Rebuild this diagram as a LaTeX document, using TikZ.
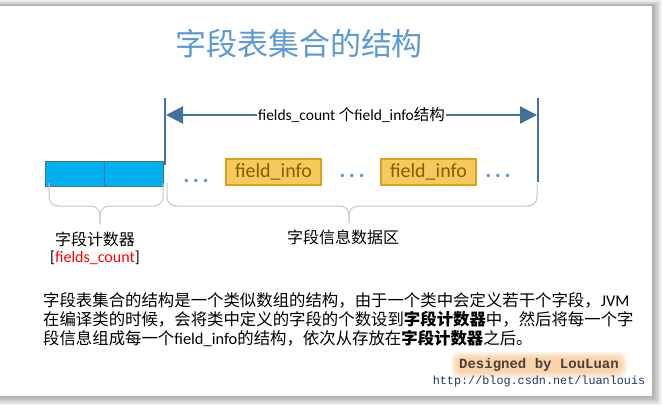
\documentclass[tikz,border=0pt]{standalone}
\usepackage{fontspec}
\setmainfont{Carlito}
\newfontfamily\cjk{Noto Sans CJK SC}
\newfontfamily\codefont{Liberation Mono}
\usetikzlibrary{positioning,arrows.meta}
\definecolor{titleBlue}{HTML}{5B9BD5}
\definecolor{dimBlue}{HTML}{41719C}
\definecolor{countCyan}{HTML}{00B0F0}
\definecolor{infoFill}{HTML}{F7C95C}
\definecolor{infoBorder}{HTML}{D9A21B}
\definecolor{infoText}{HTML}{7F6000}
\definecolor{braceGray}{HTML}{C8C8C8}
\definecolor{glowOrange}{HTML}{F8B26A}
\definecolor{designGray}{HTML}{4A4036}
\definecolor{urlBlue}{HTML}{1F3864}

\begin{document}
\begin{tikzpicture}[
    x=1pt, y=-1pt,
    countcell/.style={
        draw=dimBlue,
        line width=0.6pt,
        fill=countCyan,
        minimum width=59pt,
        minimum height=25pt,
        inner sep=0pt
    },
    infobox/.style={
        draw=infoBorder,
        line width=2pt,
        fill=infoFill,
        text=infoText,
        minimum width=95pt,
        minimum height=26pt,
        inner sep=1pt,
        font=\fontsize{20}{20}\selectfont
    },
    dotrow/.style={
        text=titleBlue,
        inner sep=0pt,
        font=\fontsize{23}{23}\selectfont\bfseries
    },
    dimline/.style={
        draw=dimBlue,
        line width=2.2pt
    },
    dimarrow/.style={
        {Triangle[length=17pt,width=17pt]}-{Triangle[length=17pt,width=17pt]},
        draw=dimBlue,
        line width=2.2pt
    },
    bracepath/.style={
        draw=braceGray,
        line width=1pt,
        rounded corners=9pt
    },
    cjklabel/.style={
        inner sep=1pt,
        font=\cjk\fontsize{16}{16}\selectfont
    }
]
\useasboundingbox (0,0) rectangle (662,405);
\fill[white] (0,0) rectangle (662,405);
% card with its shadow
\foreach \s in {1,...,7}
    \fill[black, opacity=0.05] (-10,6-0.8*\s) rectangle (652+1.4*\s,396+1.3*\s);
\fill[white] (-10,6) rectangle (652,396);

\node[text=titleBlue, font=\cjk\fontsize{31}{31}\selectfont] (title) at (299,44) {字段表集合的结构};

% dimension line over the data area
\coordinate (barLtop) at (165,98);
\coordinate (barLbot) at (165,165);
\coordinate (barRtop) at (538,98);
\coordinate (barRbot) at (538,182);
\coordinate (dimL) at (166,115);
\coordinate (dimR) at (537,115);
\draw[dimline] (barLtop) -- (barLbot);
\draw[dimline] (barRtop) -- (barRbot);
\draw[dimarrow] (dimL) -- node[fill=white, inner sep=1pt, font=\fontsize{15.5}{15.5}\selectfont] (dimtext) {fields\_count {\cjk 个}field\_info{\cjk 结构}} (dimR);

% counter and field_info row
\node[countcell] (cnt1) at (74.5,173.5) {};
\node[countcell, right=0pt of cnt1] (cnt2) {};
\node[dotrow] (dots1) at (196,181) {.\kern3.5pt.\kern3.5pt.};
\node[infobox] (info1) at (273.5,172) {field\_info};
\node[dotrow] (dots2) at (352,176) {.\kern3.5pt.\kern3.5pt.};
\node[infobox] (info2) at (428.5,171.5) {field\_info};
\node[dotrow] (dots3) at (498,176) {.\kern3.5pt.\kern3.5pt.};

% braces
\draw[bracepath] (49,183) -- (49,206) -- (100,206) -- (100,224);
\draw[bracepath] (163,183) -- (163,206) -- (100,206) -- (100,224);
\draw[bracepath] (167,183) -- (167,206) -- (349,206) -- (349,223);
\draw[bracepath] (537,183) -- (537,206) -- (349,206) -- (349,223);

\node[cjklabel] (cntlabel) at (95,239) {字段计数器};
\node[inner sep=1pt, font=\fontsize{16}{16}\selectfont, below=2pt of cntlabel] (cntname) {[\textcolor{red}{fields\_count}]};
\node[cjklabel] (datalabel) at (343,237) {字段信息数据区};

\node[anchor=north west, align=left, inner sep=0pt, font=\fontsize{16.4}{19}\selectfont] (desc) at (43,292) {%
{\cjk 字段表集合的结构是一个类似数组的结构，由于一个类中会定义若干个字段，}JVM\\
{\cjk 在编译类的时候，会将类中定义的字段的个数设到\textbf{字段计数器}中，然后将每一个字}\\
{\cjk 段信息组成每一个}field\_info{\cjk 的结构，依次从存放在\textbf{字段计数器}之后。}};

% signature
\foreach \g in {0,1.5,3,4.5,6}
    \fill[glowOrange, opacity=0.15, rounded corners=8pt] (457-\g,358-\g) rectangle (621+\g,372+\g);
\node[text=designGray, inner sep=2pt, font=\codefont\bfseries\fontsize{14}{14}\selectfont] (designed) at (539,365) {Designed by LouLuan};
\node[text=urlBlue, inner sep=1pt, font=\codefont\fontsize{11.8}{12}\selectfont, below=1pt of designed] (url) {http://blog.csdn.net/luanlouis};
\end{tikzpicture}
\end{document}
